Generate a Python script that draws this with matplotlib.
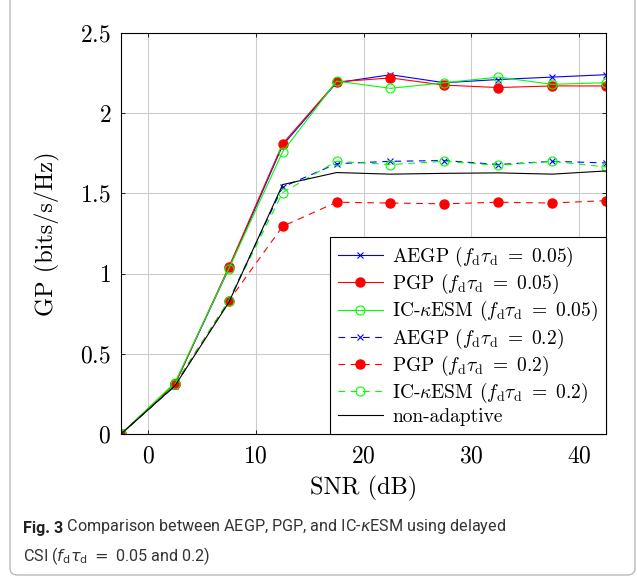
import numpy as np
import matplotlib
matplotlib.use("Agg")
import matplotlib.pyplot as plt
from matplotlib.patches import FancyBboxPatch

plt.rcParams['font.family'] = 'cmr10'
plt.rcParams['mathtext.fontset'] = 'cm'
plt.rcParams['axes.formatter.use_mathtext'] = True

# SNR points (dB)
snr = [-2.5, 2.5, 7.5, 12.5, 17.5, 22.5, 27.5, 32.5, 37.5, 42.5]

# f_d tau_d = 0.05
aegp_005 = [0.0, 0.31, 1.03, 1.80, 2.19, 2.24, 2.19, 2.21, 2.225, 2.24]
pgp_005 = [0.0, 0.31, 1.04, 1.81, 2.195, 2.22, 2.175, 2.16, 2.17, 2.17]
ic_005 = [0.0, 0.32, 1.03, 1.76, 2.20, 2.155, 2.19, 2.225, 2.18, 2.19]

# f_d tau_d = 0.2
aegp_02 = [0.0, 0.30, 0.83, 1.54, 1.685, 1.70, 1.705, 1.68, 1.70, 1.69]
pgp_02 = [0.0, 0.31, 0.83, 1.295, 1.445, 1.44, 1.435, 1.445, 1.44, 1.455]
ic_02 = [0.0, 0.31, 0.83, 1.505, 1.70, 1.68, 1.70, 1.675, 1.70, 1.665]

non_adaptive = [0.0, 0.30, 0.82, 1.555, 1.63, 1.62, 1.625, 1.628, 1.62, 1.64]

xticks = [0, 10, 20, 30, 40]
yticks = [0, 0.5, 1, 1.5, 2, 2.5]

fig = plt.figure(figsize=(6.37, 5.79), dpi=100)
ax = fig.add_axes([121/637, 1 - 434/579, 485/637, 401/579])

lw = 0.8
ms_circ = 6.5
ms_x = 4.5
dash = (0, (6, 5))
lab = r'($f_\mathrm{d}\tau_\mathrm{d}\ =\ %s$)'

ax.plot(snr, aegp_005, color='blue', lw=lw, marker='x', ms=ms_x, mew=0.8,
        label='AEGP ' + lab % '0.05')
ax.plot(snr, pgp_005, color='red', lw=lw, marker='o', ms=ms_circ,
        mfc='red', mec='red', label='PGP ' + lab % '0.05')
ax.plot(snr, ic_005, color='#00ff00', lw=lw, marker='o', ms=ms_circ,
        mfc='none', mec='#00ff00', mew=0.8, label=r'IC-$\kappa$ESM ' + lab % '0.05')
ax.plot(snr, aegp_02, color='blue', lw=lw, ls=dash, marker='x', ms=ms_x, mew=0.8,
        label='AEGP ' + lab % '0.2')
ax.plot(snr, pgp_02, color='red', lw=lw, ls=dash, marker='o', ms=ms_circ,
        mfc='red', mec='red', label='PGP ' + lab % '0.2')
ax.plot(snr, ic_02, color='#00ff00', lw=lw, ls=dash, marker='o', ms=ms_circ,
        mfc='none', mec='#00ff00', mew=0.8, label=r'IC-$\kappa$ESM ' + lab % '0.2')
ax.plot(snr, non_adaptive, color='black', lw=lw, label='non-adaptive')

ax.set_xlim(-2.5, 42.5)
ax.set_ylim(0, 2.5)
ax.set_xticks(xticks)
ax.set_yticks(yticks)
ax.set_xticklabels([f'${t}$' for t in xticks])
ax.set_yticklabels([f'${t:g}$' for t in yticks])
ax.tick_params(direction='in', length=3, width=0.6, top=True, right=True,
               labelsize=17)
ax.tick_params(axis='x', pad=8)
ax.tick_params(axis='y', pad=7)
ax.grid(True, color='#cccccc', lw=0.8)
ax.set_axisbelow(True)
for s in ax.spines.values():
    s.set_linewidth(0.8)

ax.set_xlabel('SNR (dB)', fontsize=17.5)
ax.xaxis.label.set_va('center')
ax.xaxis.set_label_coords(0.5, -(488 - 434) / 401)
ax.set_ylabel('GP (bits/s/Hz)', fontsize=17.5)
ax.yaxis.label.set_va('center')
ax.yaxis.set_label_coords(-(121 - 47) / 485, 0.5)

leg = ax.legend(loc='lower right', bbox_to_anchor=(1.0, 0.0), fontsize=14,
                frameon=True, fancybox=False, edgecolor='black', framealpha=1,
                borderaxespad=0, handlelength=2.3, labelspacing=0.16,
                borderpad=0.4, handletextpad=0.5)
leg.get_frame().set_linewidth(0.8)

# figure caption and outer frame
border = FancyBboxPatch((10/637, 4/579), 625/637, 1.2,
                        boxstyle='round,pad=0,rounding_size=0.012',
                        transform=fig.transFigure, fill=False,
                        edgecolor='#bbbbbb', lw=1.0)
fig.add_artist(border)

cap = dict(family='Roboto', fontstretch='condensed', fontsize=11.6)
t1 = fig.text(23/637, 1 - 528/579, 'Fig. 3', weight='bold', va='center',
              color='#222222', **cap)
ax.annotate(r' Comparison between AEGP, PGP, and IC-$\kappa$ESM using delayed',
            xy=(1, 0), xycoords=t1, va='bottom', ha='left', color='#333333',
            math_fontfamily='dejavusans', annotation_clip=False, **cap)
fig.text(23/637, 1 - 556/579,
         r'CSI ($f_\mathrm{d}\tau_\mathrm{d}$ $=$ 0.05 and 0.2)',
         va='center', color='#333333', math_fontfamily='dejavusans', **cap)

fig.savefig('out.png', dpi=100)
